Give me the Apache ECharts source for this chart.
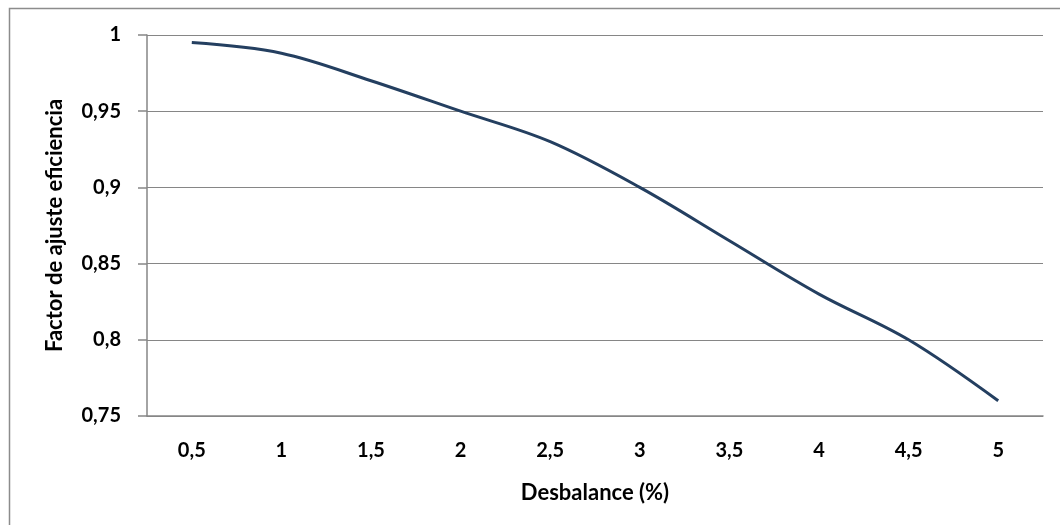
<!DOCTYPE html>
<html>
<head>
<meta charset="utf-8">
<script src="https://cdn.jsdelivr.net/npm/echarts@6/dist/echarts.min.js"></script>
<style>
  html, body { margin: 0; padding: 0; background: #fff; }
  #chart { width: 1060px; height: 525px; }
</style>
</head>
<body>
<div id="chart"></div>
<script>
// Imbalance percentages (x categories)
const desbalance = ['0,5', '1', '1,5', '2', '2,5', '3', '3,5', '4', '4,5', '5'];
// Efficiency adjustment factor for each imbalance level
const factor = [0.995, 0.988, 0.970, 0.950, 0.930, 0.900, 0.865, 0.830, 0.800, 0.760];

const FONT = 'Lato, "Open Sans", "Liberation Sans", sans-serif';
const TICK = { fontFamily: FONT, fontWeight: 'bold', fontSize: 20, color: '#000' };
const TITLE = { fontFamily: FONT, fontWeight: 'bold', fontSize: 22, color: '#000' };
const chart = echarts.init(document.getElementById('chart'), null, { renderer: 'canvas' });

chart.setOption({
  backgroundColor: '#ffffff',
  animation: false,
  graphic: [{
    type: 'rect',
    shape: { x: 9.5, y: 8.5, width: 1060, height: 530 },
    style: { fill: 'none', stroke: '#8c8c8c', lineWidth: 1.5 },
    silent: true
  }],
  grid: { left: 147, right: 17, top: 35, bottom: 109 },
  xAxis: {
    type: 'category',
    data: desbalance,
    boundaryGap: true,
    name: 'Desbalance (%)',
    nameLocation: 'middle',
    nameGap: 66,
    nameTextStyle: TITLE,
    axisLine: { lineStyle: { color: '#868686', width: 1.5 } },
    axisTick: { show: false },
    axisLabel: Object.assign({ margin: 25 }, TICK)
  },
  yAxis: {
    type: 'value',
    min: 0.75,
    max: 1,
    interval: 0.05,
    name: 'Factor de ajuste eficiencia',
    nameLocation: 'middle',
    nameGap: 81,
    nameRotate: 90,
    nameTextStyle: TITLE,
    axisLine: { show: true, lineStyle: { color: '#868686', width: 1.5 } },
    axisTick: { show: true, length: 9, lineStyle: { color: '#868686', width: 1.5 } },
    splitLine: { lineStyle: { color: '#868686', width: 1.2 } },
    axisLabel: Object.assign({
      margin: 26,
      formatter: v => String(+v.toFixed(2)).replace('.', ',')
    }, TICK)
  },
  series: [{
    type: 'line',
    data: factor,
    smooth: 0.35,
    symbol: 'none',
    lineStyle: { color: '#243F60', width: 3 }
  }]
});
</script>
</body>
</html>
